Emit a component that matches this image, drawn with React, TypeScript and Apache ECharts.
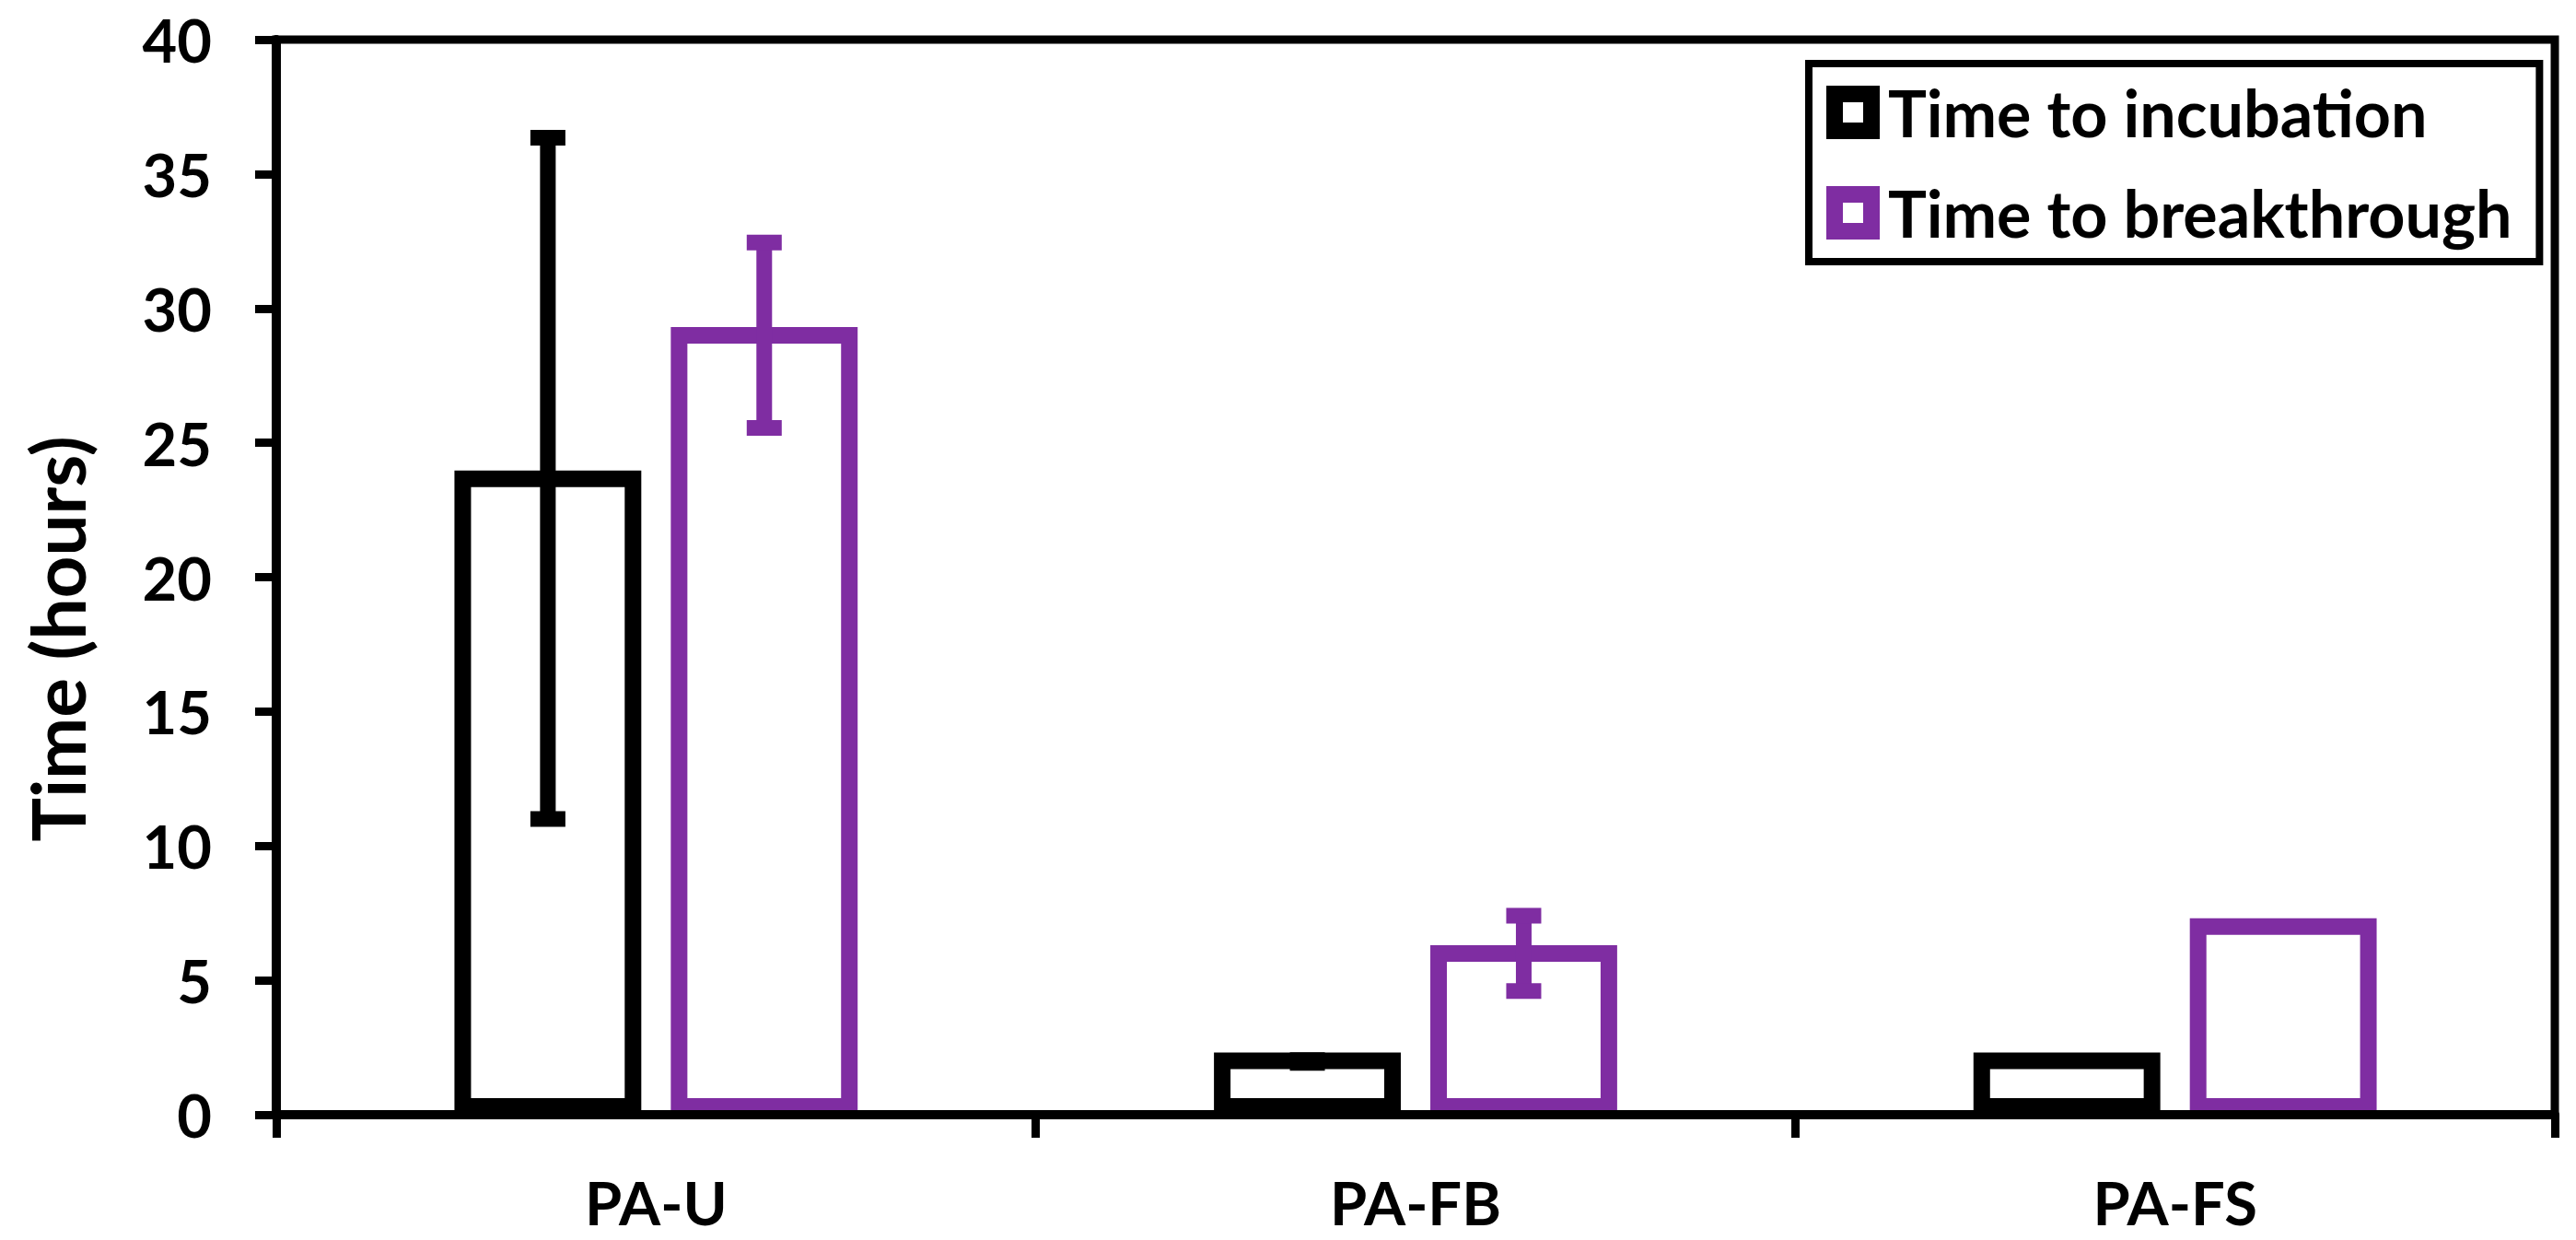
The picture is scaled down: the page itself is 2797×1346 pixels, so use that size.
import React, { useEffect, useRef } from 'react';
import * as echarts from 'echarts';

const categories = ['PA-U', 'PA-FB', 'PA-FS'];
const seriesNames = ['Time to incubation', 'Time to breakthrough'];
// bar heights (top edge of the outlined bars)
const incubation = [23.97, 2.31, 2.31];
const breakthrough = [29.31, 6.31, 7.31];
// error bar ranges [low, high]; null = no error bar
const incubationRange: ([number, number] | null)[] = [[11.0, 36.35], [1.93, 2.03], null];
const breakthroughRange: ([number, number] | null)[] = [[25.55, 32.45], [4.6, 7.4], null];
const yMin = 0;
const yMax = 40;
const yInterval = 5;
const yTitle = 'Time (hours)';

const colors = ['#000000', '#7F2DA2'];
const FONT = 'Lato, "Open Sans", sans-serif';
const BAR_W = 0.246;
const BAR_GAP = 0.158;

export default function App() {
  const ref = useRef<HTMLDivElement>(null);
  useEffect(() => {
    const chart = echarts.init(ref.current as HTMLDivElement, null, { renderer: 'svg' });
    const offsetFrac = (BAR_W * (1 + BAR_GAP)) / 2;
    const errSeries = (ranges: ([number, number] | null)[], idx: number) => ({
      type: 'custom',
      name: 'err' + idx,
      z: 5,
      silent: true,
      data: ranges.map((r, i) => (r ? [i, r[0], r[1], 1] : [i, 0, 0, 0])),
      encode: { x: 0, y: [1, 2] },
      renderItem: (params: any, api: any) => {
        const has = api.value(3);
        if (!has) return { type: 'group', children: [] };
        const i = api.value(0);
        const band = api.size([1, 0])[0];
        const x = api.coord([i, 0])[0] + (idx === 0 ? -1 : 1) * offsetFrac * band;
        const yLo = api.coord([i, api.value(1)])[1];
        const yHi = api.coord([i, api.value(2)])[1];
        const style = { stroke: colors[idx], lineWidth: 17, fill: null };
        const capHalf = 19;
        return {
          type: 'group',
          children: [
            { type: 'line', shape: { x1: x, y1: yHi, x2: x, y2: yLo }, style },
            { type: 'line', shape: { x1: x - capHalf, y1: yHi, x2: x + capHalf, y2: yHi }, style },
            { type: 'line', shape: { x1: x - capHalf, y1: yLo, x2: x + capHalf, y2: yLo }, style },
          ],
        };
      },
    });
    const barSeries = (name: string, vals: number[], idx: number) => ({
      type: 'bar',
      name,
      data: vals,
      barWidth: BAR_W * 100 + '%',
      barGap: BAR_GAP * 100 + '%',
      z: 2,
      itemStyle: { color: '#ffffff', borderColor: colors[idx], borderWidth: 18 },
    });
    chart.setOption({
      animation: false,
      backgroundColor: '#ffffff',
      grid: {
        left: 300,
        right: 23,
        top: 43,
        bottom: 136,
        show: true,
        borderColor: '#000',
        borderWidth: 9,
        backgroundColor: 'transparent',
      },
      legend: {
        orient: 'vertical',
        left: 1964,
        top: 69,
        padding: [18, 30, 18, 19],
        borderColor: '#000',
        borderWidth: 8,
        backgroundColor: '#fff',
        itemWidth: 40,
        itemHeight: 40,
        itemGap: 39,
        selectedMode: false,
        icon: 'rect',
        data: seriesNames.map((n, i) => ({
          name: n,
          icon: 'rect',
          itemStyle: { color: '#fff', borderColor: colors[i], borderWidth: 18 },
        })),
        textStyle: {
          fontFamily: FONT,
          fontWeight: 'bold',
          fontSize: 70,
          color: '#000',
          padding: [0, 0, 0, 13],
        },
      },
      xAxis: {
        type: 'category',
        data: categories,
        z: 10,
        axisLine: { show: true, lineStyle: { color: '#000', width: 10 } },
        axisTick: { show: true, length: 25, lineStyle: { color: '#000', width: 9 } },
        axisLabel: { margin: 62, fontFamily: FONT, fontWeight: 'bold', fontSize: 65, color: '#000' },
        splitLine: { show: false },
      },
      yAxis: {
        type: 'value',
        min: yMin,
        max: yMax,
        interval: yInterval,
        z: 10,
        name: yTitle,
        nameLocation: 'middle',
        nameGap: 198,
        nameTextStyle: {
          fontFamily: FONT,
          fontWeight: 'bold',
          fontSize: 80,
          color: '#000',
          padding: [0, 134, 0, 0],
        },
        axisLine: { show: true, lineStyle: { color: '#000', width: 10 } },
        axisTick: { show: true, length: 23, lineStyle: { color: '#000', width: 9 } },
        axisLabel: { margin: 70, fontFamily: FONT, fontWeight: 'bold', fontSize: 65, color: '#000' },
        splitLine: { show: false },
      },
      series: [
        barSeries(seriesNames[0], incubation, 0),
        barSeries(seriesNames[1], breakthrough, 1),
        errSeries(incubationRange, 0),
        errSeries(breakthroughRange, 1),
      ],
    });
    return () => chart.dispose();
  }, []);
  return (
    <div
      ref={ref}
      style={{ position: 'fixed', left: 0, top: 0, width: 2797, height: 1346, background: '#fff' }}
    />
  );
}
